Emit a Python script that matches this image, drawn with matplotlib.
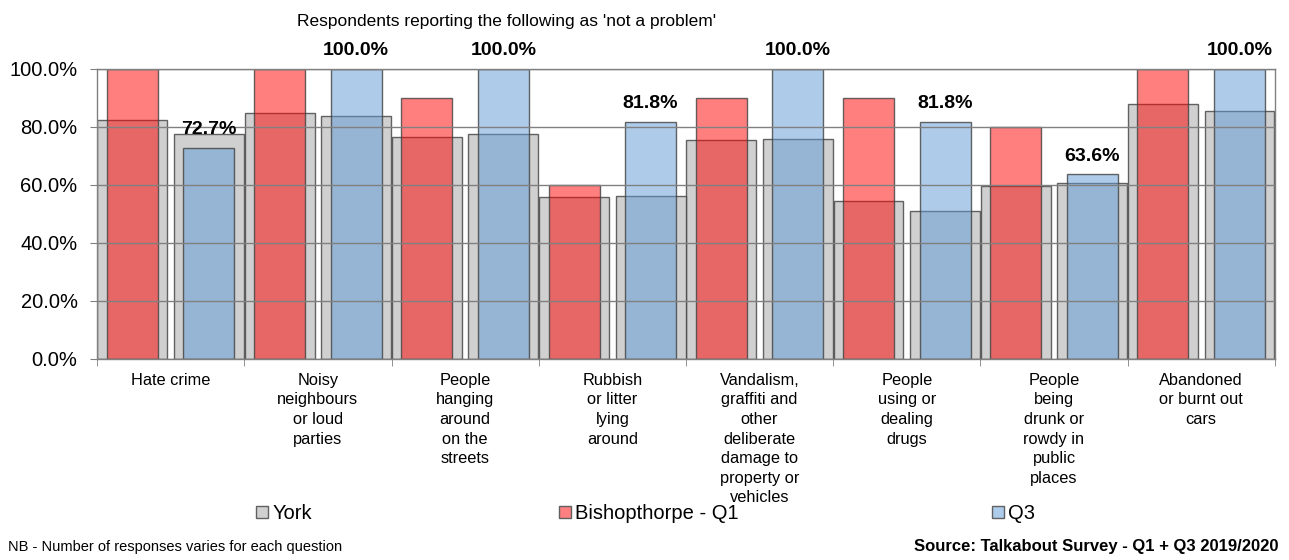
import numpy as np
import matplotlib
matplotlib.use("Agg")
import matplotlib.pyplot as plt
from matplotlib.patches import Patch

plt.rcParams['font.family'] = ['Liberation Sans', 'DejaVu Sans']

categories = [
    "Hate crime",
    "Noisy\nneighbours\nor loud\nparties",
    "People\nhanging\naround\non the\nstreets",
    "Rubbish\nor litter\nlying\naround",
    "Vandalism,\ngraffiti and\nother\ndeliberate\ndamage to\nproperty or\nvehicles",
    "People\nusing or\ndealing\ndrugs",
    "People\nbeing\ndrunk or\nrowdy in\npublic\nplaces",
    "Abandoned\nor burnt out\ncars",
]

# York comparison figures for each quarter
york_q1 = [82.5, 84.8, 76.5, 55.8, 75.6, 54.5, 59.7, 88.0]
york_q3 = [77.7, 83.6, 77.6, 56.2, 75.9, 51.0, 60.5, 85.6]
# Bishopthorpe results
bish_q1 = [100.0, 100.0, 90.0, 60.0, 90.0, 90.0, 80.0, 100.0]
bish_q3 = [72.7, 100.0, 100.0, 81.8, 100.0, 81.8, 63.6, 100.0]

x = np.arange(len(categories))
off = 0.26
wide = 0.475
narrow = 0.346

fig = plt.figure(figsize=(12.89, 5.6), dpi=100)
ax = fig.add_axes([0.0753, 0.359, 0.9137, 0.518])

edge = (0.25, 0.25, 0.25, 0.8)
grey = '#d0d0d0'
red = (1.0, 0.0, 0.0, 0.5)
blue = (0.37, 0.6, 0.84, 0.5)

ax.bar(x - off, york_q1, wide, color=grey, edgecolor=edge, linewidth=1, zorder=1)
ax.bar(x + off, york_q3, wide, color=grey, edgecolor=edge, linewidth=1, zorder=1)
ax.bar(x - off, bish_q1, narrow, color=red, edgecolor=edge, linewidth=1, zorder=2)
q3 = ax.bar(x + off, bish_q3, narrow, color=blue, edgecolor=edge, linewidth=1, zorder=2)

for rect, v in zip(q3, bish_q3):
    ax.annotate(f"{v:.1f}%", (rect.get_x() + rect.get_width() / 2, v),
                xytext=(0, 7), textcoords='offset points',
                ha='center', va='bottom', fontsize=14, fontweight='bold')

ax.set_xlim(-0.5, len(categories) - 0.5)
ax.set_ylim(0, 100)
ax.set_yticks(np.arange(0, 101, 20))
ax.set_yticklabels([f"{t:.1f}%" for t in range(0, 101, 20)], fontsize=14.5)
ax.set_xticks(x)
ax.set_xticklabels(categories, fontsize=11.8, linespacing=1.38, va='top')
ax.set_xticks(np.arange(-0.5, len(categories)), minor=True)
ax.tick_params(axis='x', which='major', length=0, pad=10)
ax.tick_params(axis='x', which='minor', length=5, color='#808080')
ax.tick_params(axis='y', length=5, color='#808080', pad=9)

ax.grid(axis='y', color='#808080', linewidth=1, zorder=3)
ax.set_axisbelow(False)
for s in ax.spines.values():
    s.set_color('#808080')
    s.set_linewidth(1)
    s.set_zorder(3)

fig.text(0.393, 0.962, "Respondents reporting the following as 'not a problem'",
         ha='center', va='center', fontsize=12.5)

legend_items = [
    ("York", grey, 0.1986),
    ("Bishopthorpe - Q1", (1.0, 0.5, 0.5), 0.4337),
    ("Q3", (0.68, 0.8, 0.92), 0.7696),
]
for label, col, xpos in legend_items:
    fig.legend(handles=[Patch(facecolor=col, edgecolor='#606060')], labels=[label],
               loc='center left', bbox_to_anchor=(xpos, 0.083), frameon=False,
               fontsize=14.5, handlelength=0.6, handleheight=0.6,
               handletextpad=0.2, borderpad=0, borderaxespad=0)

fig.text(0.006, 0.024, "NB - Number of responses varies for each question",
         ha='left', va='center', fontsize=10.5)
fig.text(0.992, 0.024, "Source: Talkabout Survey - Q1 + Q3 2019/2020",
         ha='right', va='center', fontsize=12, fontweight='bold')

fig.savefig("out.png", dpi=100)
